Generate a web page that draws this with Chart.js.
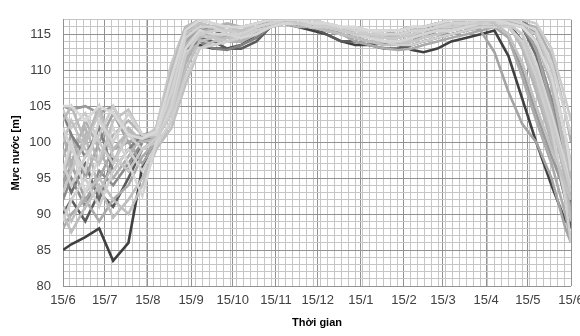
<!DOCTYPE html>
<html lang="vi">
<head>
<meta charset="UTF-8">
<title>Mực nước</title>
<script src="https://cdn.jsdelivr.net/npm/chart.js"></script>
<style>
  html, body { margin: 0; padding: 0; background: #fff; }
  #wrap { width: 580px; height: 336px; }
</style>
</head>
<body>
<div id="wrap"><canvas id="levelChart" width="580" height="336"></canvas></div>
<script>
// days counted from 15/6
const days = [0, 6, 16, 26, 36, 47, 57, 67, 78, 88, 98, 108, 118, 128, 139, 149, 159, 169, 179, 189,
              200, 210, 220, 231, 241, 251, 259, 269, 279, 290, 300, 310, 320, 330, 340, 351, 361, 365];
const monthDays = [0, 30, 61, 92, 122, 153, 183, 214, 245, 273, 304, 334, 365];
const monthLabels = ['15/6', '15/7', '15/8', '15/9', '15/10', '15/11', '15/12', '15/1', '15/2', '15/3', '15/4', '15/5', '15/6'];

const run01 = [85, 85.8, 86.8, 88, 83.5, 86, 96.5, 101, 106, 113, 113.5, 113, 113, 113.5, 115, 116.5, 116.5, 116, 115.5, 115,
               114, 113.5, 113.5, 114, 113.5, 112.8, 112.5, 113, 114, 114.5, 115, 115.5, 112, 106, 100, 94, 89, 88.5];
const run02 = [90, 92, 89, 93, 91, 95, 99, 100.5, 104, 112, 114.5, 114, 113, 113, 114, 116, 117, 116.5, 116, 115,
               114, 114, 113.5, 113, 113, 113.5, 114, 114.5, 115, 115.5, 116, 116.5, 116.5, 114, 108, 100, 92, 88];
const run03 = [96, 93, 97, 92, 98, 96, 100, 101, 108, 114, 116, 115.5, 115, 114, 115, 116.5, 117, 117, 116.5, 116,
               115.5, 115, 114.5, 114.5, 115, 115.5, 116, 116, 116.5, 116.5, 116, 116.5, 116.5, 116, 112, 104, 95, 91];
const run04 = [104, 101, 98, 102, 96, 99, 101, 101.5, 106, 113, 114, 113, 112.8, 113.5, 114.5, 116, 116.5, 116.5, 116, 115.5,
               115, 114.5, 114, 113.8, 113.5, 114, 115, 115.5, 116, 116.5, 117, 117, 117, 117, 115, 108, 98, 94];
const run05 = [92, 95, 91, 96, 94, 97, 100, 102, 110, 115, 116.5, 116, 115, 114.5, 115.5, 116.5, 117, 116.5, 116, 115.5,
               115, 114.5, 114, 113.5, 114, 114.5, 115, 115, 115, 115.5, 116, 116.5, 117, 116, 113, 106, 97, 92];
const run06 = [105, 104.5, 105, 104, 105, 101, 100.5, 101, 109, 115.5, 116.5, 116, 115.5, 115, 116, 117, 117, 116.5, 116, 116,
               115.5, 115, 114.5, 114.5, 115, 115.5, 116, 116.5, 116.5, 117, 117, 116.5, 115, 110, 104, 98, 93, 91];
const run07 = [98, 101, 95, 100, 104, 100, 97, 100, 107, 114, 116, 115, 114.5, 115, 116, 116.5, 117, 117, 116.5, 116,
               115.5, 115, 115, 114.5, 114.5, 115, 115.5, 115.5, 116, 116.5, 117, 117, 116.5, 116.5, 113, 105, 96, 93];
const run08 = [88, 90, 92, 89, 92, 94, 98, 100, 105, 112, 114, 113.5, 114, 114.5, 115.5, 116, 116.5, 116.5, 116.5, 116,
               115, 114, 113.5, 113, 112.8, 113, 113.5, 114, 114.5, 115, 115.5, 116, 114.5, 109, 103, 97, 90, 86];
const run09 = [101, 97, 103, 99, 95, 98, 101, 101, 104, 111, 115, 116, 116.5, 116, 116.5, 117, 117, 117, 116.5, 116,
               115.5, 115.5, 115, 115, 115.5, 116, 116, 116.5, 116.5, 116.5, 116.5, 117, 117, 116.5, 116, 112, 104, 100];
const run10 = [95, 99, 102, 97, 101, 103, 101, 100.5, 106, 113.5, 115.5, 115, 114, 114, 115, 116, 116.5, 116, 116, 115.5,
               115, 114.5, 114, 114, 114.5, 115, 115, 115.5, 116, 116, 116.5, 117, 116.5, 113, 107, 100, 94, 90];
const run11 = [103, 105, 100, 105, 99, 101.5, 100.5, 101, 110, 116, 117, 116.5, 116, 116, 116.5, 117, 117, 117, 116.5, 116.5,
               116, 115.5, 115.5, 115, 115, 115.5, 116, 116.5, 117, 117, 117, 117, 117, 116.5, 114, 108, 99, 95];
const run12 = [90, 87.5, 91, 94, 89.5, 92, 95, 99, 103, 110, 114, 114.5, 115, 115, 116, 116.5, 116.5, 116.5, 116, 115.5,
               115, 114.5, 114, 114, 114, 114.5, 115, 115.5, 116, 116, 116, 116.5, 116, 113.5, 108, 101, 93, 89];
const run13 = [100, 103, 99, 97, 103, 104.5, 101, 101, 108, 115, 116.5, 116, 116, 115.5, 116, 116.5, 117, 117, 117, 116.5,
               116, 116, 115.5, 115.5, 115.5, 116, 116, 116.5, 116.5, 117, 117, 116.5, 115, 111, 105, 99, 94, 92];
const run14 = [93, 96, 100, 104, 98, 96, 99, 100, 106, 113, 115, 114.5, 114, 115, 116, 116.5, 117, 116.5, 116.5, 116,
               115.5, 115, 114.5, 114.5, 114, 114, 114.5, 115, 115.5, 116, 116.5, 116.5, 116.5, 116, 115, 110, 101, 97];
const run15 = [104.5, 102, 104, 100, 97, 101, 100.5, 102, 111, 116, 116.5, 116, 115.5, 115.5, 116.5, 117, 117, 116.5, 116.5, 116,
               115.5, 115, 115, 114.5, 114.5, 115, 115.5, 116, 116.5, 116.5, 117, 117, 116.5, 115, 110, 103, 96, 93];
const run16 = [97, 94, 98, 101, 105, 101, 99, 100.5, 104, 112, 115, 115.5, 115.5, 115, 116, 116.5, 117, 117, 116.5, 116,
               116, 115.5, 115, 115, 115, 115, 115.5, 116, 116, 116.5, 116.5, 117, 117, 117, 116.5, 113, 106, 103];
const run17 = [89, 92, 95, 91, 96, 99, 96, 99.5, 103, 109, 113, 113.5, 114, 114.5, 115.5, 116, 116.5, 116.5, 116, 116,
               115.5, 115, 114.5, 114, 113.5, 113.5, 114, 114.5, 115, 115.5, 116, 116, 116, 114, 109, 102, 92, 86];
const run18 = [102, 99, 96, 103, 100, 104, 101, 101, 107, 114.5, 116, 116, 115, 115, 116, 116.5, 117, 117, 117, 116.5,
               116, 115.5, 115.5, 115, 115, 115.5, 115.5, 116, 116.5, 116.5, 117, 117, 117, 116.5, 115.5, 111, 104, 101];
const run19 = [96, 100, 93, 98, 102, 97, 92.5, 100, 105, 113, 115.5, 115, 115, 114.5, 115, 116, 116.5, 116.5, 116.5, 116,
               115.5, 115, 114.5, 114, 114, 114.5, 115, 115.5, 115.5, 116, 116.5, 116.5, 116.5, 115, 111, 104, 97, 94];
const run20 = [105, 105, 103, 105, 104, 101, 100.5, 101.5, 109, 115.5, 117, 116.5, 116, 116, 116.5, 117, 117, 117, 116.5, 116.5,
               116, 116, 115.5, 115.5, 115.5, 116, 116, 116.5, 117, 117, 117, 117, 116.5, 116, 114, 109, 101, 96];
const run21 = [91, 89, 93, 95, 92, 90, 94, 99, 102, 108, 113, 114, 114.5, 115, 115.5, 116, 116.5, 116.5, 116, 115.5,
               115, 114.5, 114, 113.5, 113.5, 114, 114.5, 115, 115.5, 116, 116, 116.5, 116.5, 116, 114, 108, 98, 95];
const run22 = [99, 96, 101, 93, 97, 102, 100, 100.5, 104, 111, 114.5, 115, 115, 115, 116, 116.5, 117, 117, 116.5, 116,
               115.5, 115, 115, 114.5, 114.5, 115, 115.5, 116, 116, 116.5, 116.5, 116.5, 116, 114, 110, 103, 95, 92];
const run23 = [94, 97, 92, 95, 99, 100, 101, 100.5, 105, 113, 115, 114.5, 114, 114, 115, 116, 116.5, 116.5, 116, 115.5,
               115, 114.5, 114, 114, 114, 114.5, 115, 115.5, 116, 116, 115.5, 112.5, 107, 102.5, 100, 95, 88, 86];

// first one is drawn on top
const series = [run20, run18, run16, run13, run11, run15, run19, run17, run14, run12, run21, run04,
                run09, run22, run10, run08, run23, run07, run06, run05, run03, run02, run01];
const shades = ['#d8d8d8', '#d2d2d2', '#cccccc', '#c2c2c2', '#bababa', '#c9c9c9', '#d5d5d5', '#cfcfcf', '#c6c6c6', '#bebebe', '#c0c0c0', '#808080',
                '#b0b0b0', '#b8b8b8', '#b5b5b5', '#aaaaaa', '#a4a4a4', '#a3a3a3', '#999999', '#8c8c8c', '#6e6e6e', '#5a5a5a', '#404040'];

const FONT = '"Liberation Sans", Arial, sans-serif';
const MAJOR = '#929292';
const MINOR = '#c6c6c6';

const xTicks = [];
for (let d = 0; d <= 365; d += 5) xTicks.push(d);
monthDays.forEach(d => { if (!xTicks.includes(d)) xTicks.push(d); });
xTicks.sort((a, b) => a - b);

const datasets = series.map((vals, i) => ({
  data: vals.map((v, j) => ({ x: days[j], y: v })),
  borderColor: shades[i],
  borderWidth: 2.6,
  pointRadius: 0,
  tension: 0,
  fill: false
}));

new Chart(document.getElementById('levelChart'), {
  type: 'line',
  data: { datasets },
  options: {
    responsive: false,
    devicePixelRatio: 1,
    animation: false,
    layout: { padding: { left: 0, right: 9, top: 11, bottom: 0 } },
    plugins: { legend: { display: false }, tooltip: { enabled: false } },
    scales: {
      x: {
        type: 'linear',
        min: 0,
        max: 365,
        afterBuildTicks: scale => { scale.ticks = xTicks.map(v => ({ value: v })); },
        afterFit: scale => { scale.height = 50; scale.paddingLeft = 0; scale.paddingRight = 0; },
        ticks: {
          autoSkip: false,
          maxRotation: 0,
          padding: 7,
          color: '#404040',
          font: { family: FONT, size: 13 },
          callback: v => {
            const i = monthDays.indexOf(v);
            return i >= 0 ? monthLabels[i] : '';
          }
        },
        grid: {
          drawTicks: false,
          lineWidth: 1,
          color: ctx => (ctx.tick && monthDays.includes(ctx.tick.value)) ? MAJOR : MINOR
        },
        border: { display: false },
        title: {
          display: true,
          text: 'Thời gian',
          color: '#000',
          font: { family: FONT, size: 11, weight: 'bold' },
          padding: { top: 0, bottom: 6 }
        }
      },
      y: {
        min: 80,
        max: 117,
        afterFit: scale => { scale.width = 63; },
        ticks: {
          stepSize: 1,
          autoSkip: false,
          padding: 12,
          color: '#404040',
          font: { family: FONT, size: 13 },
          callback: v => (v % 5 === 0 ? v : '')
        },
        grid: {
          drawTicks: false,
          lineWidth: 1,
          color: ctx => (ctx.tick && ctx.tick.value % 5 === 0) ? MAJOR : MINOR
        },
        border: { color: MAJOR },
        title: {
          display: true,
          text: 'Mực nước [m]',
          color: '#000',
          font: { family: FONT, size: 11, weight: 'bold' },
          padding: { top: 9, bottom: 0 }
        }
      }
    }
  }
});
</script>
</body>
</html>
